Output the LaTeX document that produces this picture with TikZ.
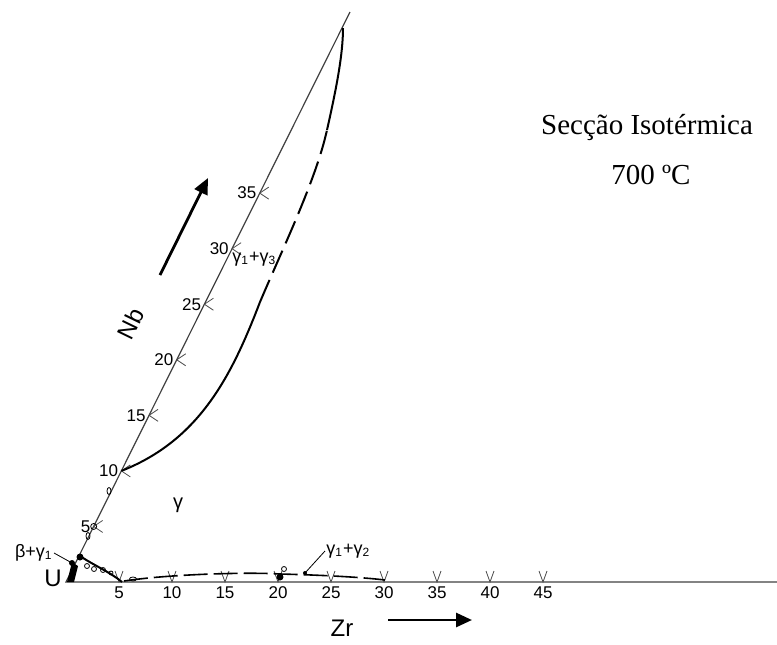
\documentclass[tikz,border=0pt]{standalone}
\usepackage{fontspec}
\setmainfont{Liberation Serif}
\newfontfamily\handfont{Liberation Sans}
\usetikzlibrary{calc,arrows.meta}
\begin{document}
\begin{tikzpicture}[
    x=0.5pt, y=-0.5pt,
    axis/.style={draw=black!75, line width=0.6pt},
    tickmark/.style={draw=black!70, line width=0.4pt},
    border/.style={draw, line width=1pt},
    ticklabel/.style={font=\handfont\fontsize{8.5}{9}\selectfont, inner sep=0.5pt},
    phase/.style={font=\handfont\fontsize{9}{10}\selectfont, inner sep=0.5pt},
    element/.style={font=\handfont\fontsize{12}{13}\selectfont, inner sep=1pt},
    bigarrow/.style={draw, line width=1.4pt, -{Triangle[length=8pt,width=7pt]}},
    title/.style={font=\fontsize{14.5}{16}\selectfont, inner sep=0pt}
]
    \useasboundingbox (0,0) rectangle (777,644);
    \coordinate (U) at (66,582);
    \coordinate (Nbend) at (350,12);
    \coordinate (Zrend) at (777,582);

    % axes of the section
    \draw[axis] (Nbend) -- (U) -- (Zrend);
    \node[element, anchor=east] (ulabel) at ($(U)+(-2,-4)$) {U};

    % Zr ticks
    \foreach \k in {5,10,...,45} {
        \coordinate (z\k) at ($(U)+(10.6*\k,0)$);
        \draw[tickmark] ($(z\k)+(-4,-11)$) -- (z\k) -- ($(z\k)+(4,-11)$);
        \node[ticklabel, below=1.5pt] (zl\k) at (z\k) {\k};
    }

    % Nb ticks
    \foreach \k in {5,10,...,35} {
        \coordinate (n\k) at ($(U)!\k/51.3!(Nbend)$);
        \draw[tickmark] ($(n\k)+(9,-6)$) -- (n\k) -- ($(n\k)+(9,6)$);
        \node[ticklabel, left=1pt] (nl\k) at (n\k) {\k};
    }

    % gamma / gamma1+gamma3 boundary
    \coordinate (g3b) at (260,302);
    \coordinate (g3c) at (327,130);
    \coordinate (g3top) at (343,28);
    \draw[border] (n10) .. controls (200,440) and (232,375) .. (g3b);
    \draw[border, dash pattern=on 12pt off 4pt] (g3b) .. controls (282,250) and (316,180) .. (g3c);
    \draw[border] (g3c) .. controls (336,90) and (343,55) .. (g3top);

    % beta+gamma1 corner
    \coordinate (b1) at (80,556);
    \coordinate (b2) at (122,582);
    \coordinate (p1) at (72,563);
    \draw[border] (b1) .. controls (95,566) and (110,572) .. (b2);
    \fill (67,582) -- (72,562) -- (78,566) -- (74,582) -- cycle;
    \fill (80,557) circle (3.5);
    \fill (p1) circle (3);
    \draw[thin] (87,566) circle (2.5);
    \draw[thin] (94,569) circle (2.5);
    \draw[thin] (103,570) circle (2.5);
    \draw[thin] (111,573) circle (2);
    \draw[thin] (n5) circle (3);
    \draw[thin] (88,536) ellipse (2 and 3.5);
    \draw[thin] (109,491) ellipse (2 and 3.5);
    \draw[thin] (133,579) ellipse (3.5 and 2);

    % gamma / gamma1+gamma2 boundary
    \coordinate (c1) at (124,581);
    \coordinate (c2) at (385,580);
    \draw[border, line width=0.8pt, dash pattern=on 12pt off 3pt] (c1) .. controls (170,574) and (250,572) .. (280,574) .. controls (320,575) and (360,577) .. (c2);
    \fill (280,577) circle (3.5);
    \draw[thin] (284,569) circle (2.5);
    \coordinate (p2) at (305,573);
    \fill (p2) circle (2);

    % phase labels
    \node[phase, font=\handfont\fontsize{10}{11}\selectfont] (gam) at (178,505) {γ};
    \node[phase, anchor=west] (g13) at (231,259) {γ\textsubscript{1}+γ\textsubscript{3}};
    \node[phase, anchor=west] (g12) at (325,551) {γ\textsubscript{1}+γ\textsubscript{2}};
    \node[phase, anchor=east] (bg1) at (54,553) {β+γ\textsubscript{1}};
    \draw[thin] (g12.west) -- (p2);
    \draw[thin] (bg1.east) -- (p1);

    % element names and arrows
    \node[element, rotate=64] (nb) at (131,324) {Nb};
    \node[element] (zr) at (342,628) {Zr};
    \coordinate (a1) at (160,275);
    \coordinate (a2) at (208,178);
    \coordinate (a3) at (388,620);
    \coordinate (a4) at (472,620);
    \draw[bigarrow] (a1) -- (a2);
    \draw[bigarrow] (a3) -- (a4);

    % title
    \node[title] (sec) at (647,127) {Secção Isotérmica};
    \node[title] (temp) at (651,175) {700 ºC};
\end{tikzpicture}
\end{document}
